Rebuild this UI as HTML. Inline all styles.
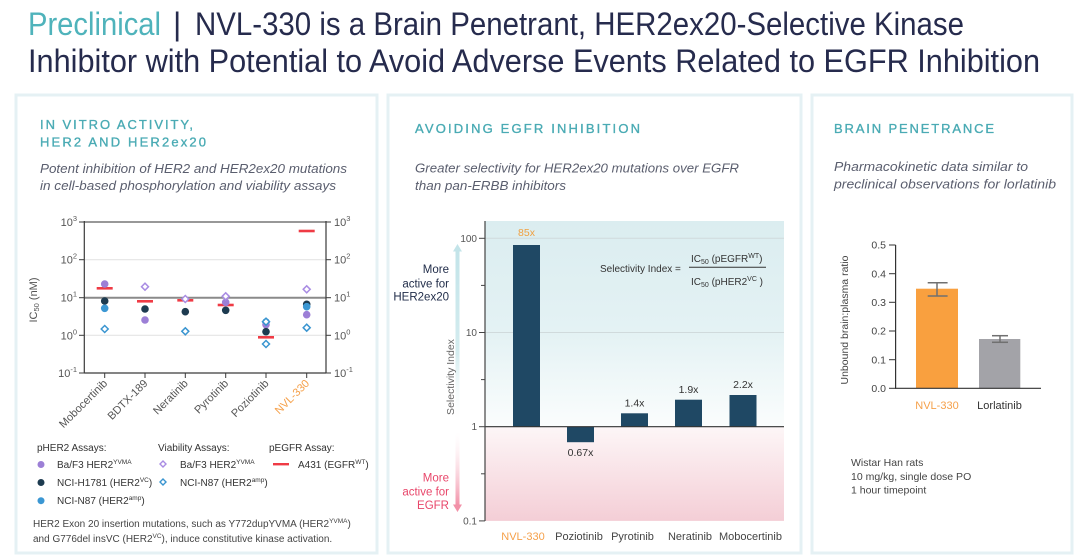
<!DOCTYPE html>
<html><head><meta charset="utf-8"><style>
html,body{margin:0;padding:0;background:#fff;}
svg{display:block;}
text{font-family:"Liberation Sans",sans-serif;}
</style></head><body>
<svg width="1080" height="560" viewBox="0 0 1080 560" xmlns="http://www.w3.org/2000/svg">
<defs>
<linearGradient id="gTeal" x1="0" y1="0" x2="0" y2="1">
<stop offset="0" stop-color="#dbedf0"/><stop offset="0.55" stop-color="#e4f2f4"/><stop offset="1" stop-color="#fbfdfd"/>
</linearGradient>
<linearGradient id="gPink" x1="0" y1="0" x2="0" y2="1">
<stop offset="0" stop-color="#fdf6f7"/><stop offset="1" stop-color="#f4ced6"/>
</linearGradient>
<linearGradient id="aTeal" x1="0" y1="0" x2="0" y2="1">
<stop offset="0" stop-color="#c3e4e9"/><stop offset="0.6" stop-color="#d4ecef"/><stop offset="1" stop-color="#ffffff" stop-opacity="0.2"/>
</linearGradient>
<linearGradient id="aPink" x1="0" y1="0" x2="0" y2="1">
<stop offset="0" stop-color="#ffffff" stop-opacity="0.2"/><stop offset="1" stop-color="#f291a8"/>
</linearGradient>
</defs>
<rect width="1080" height="560" fill="#fff"/>

<!-- Title -->
<text x="28" y="35" font-size="32" fill="#4fb3bb" textLength="133" lengthAdjust="spacingAndGlyphs">Preclinical</text>
<text x="173" y="35" font-size="32" fill="#262b4d">|</text>
<text x="195" y="35" font-size="32" fill="#262b4d" textLength="769" lengthAdjust="spacingAndGlyphs">NVL-330 is a Brain Penetrant, HER2ex20-Selective Kinase</text>
<text x="28" y="72" font-size="32" fill="#262b4d" textLength="1012" lengthAdjust="spacingAndGlyphs">Inhibitor with Potential to Avoid Adverse Events Related to EGFR Inhibition</text>

<!-- Panels -->
<rect x="16" y="95" width="361" height="458" fill="#fff" stroke="#e5f1f4" stroke-width="3"/>
<rect x="388" y="95" width="413" height="458" fill="#fff" stroke="#e5f1f4" stroke-width="3"/>
<rect x="812" y="95" width="260" height="458" fill="#fff" stroke="#e5f1f4" stroke-width="3"/>

<!-- Section headers -->
<g font-size="13" fill="#4aabb4" stroke="#4aabb4" stroke-width="0.35">
<text x="40" y="129" textLength="153" lengthAdjust="spacing">IN VITRO ACTIVITY,</text>
<text x="40" y="146.5" textLength="166" lengthAdjust="spacing">HER2 AND HER2ex20</text>
<text x="415" y="133" textLength="225" lengthAdjust="spacing">AVOIDING EGFR INHIBITION</text>
<text x="834" y="133" textLength="160" lengthAdjust="spacing">BRAIN PENETRANCE</text>
</g>
<g font-size="13" font-style="italic" fill="#5a5e6e">
<text x="40" y="173" textLength="307" lengthAdjust="spacingAndGlyphs">Potent inhibition of HER2 and HER2ex20 mutations</text>
<text x="40" y="190" textLength="296" lengthAdjust="spacingAndGlyphs">in cell-based phosphorylation and viability assays</text>
<text x="415" y="172.5" textLength="324" lengthAdjust="spacingAndGlyphs">Greater selectivity for HER2ex20 mutations over EGFR</text>
<text x="415" y="190" textLength="151" lengthAdjust="spacingAndGlyphs">than pan-ERBB inhibitors</text>
<text x="834" y="171" textLength="194" lengthAdjust="spacingAndGlyphs">Pharmacokinetic data similar to</text>
<text x="834" y="188.5" textLength="222" lengthAdjust="spacingAndGlyphs">preclinical observations for lorlatinib</text>
</g>

<!-- LEFT CHART -->
<g>
<line x1="84.3" y1="259.7" x2="326" y2="259.7" stroke="#e4e4e4" stroke-width="1.2"/>
<line x1="84.3" y1="335.3" x2="326" y2="335.3" stroke="#e4e4e4" stroke-width="1.2"/>
<line x1="84.3" y1="222" x2="326" y2="222" stroke="#8a8a8a" stroke-width="1.8"/>
<line x1="84.3" y1="297.7" x2="326" y2="297.7" stroke="#8a8a8a" stroke-width="2"/>
<line x1="84.3" y1="373" x2="326" y2="373" stroke="#3a3a3a" stroke-width="1.2"/>
<line x1="84.3" y1="221" x2="84.3" y2="373.5" stroke="#3a3a3a" stroke-width="1.2"/>
<line x1="326" y1="221" x2="326" y2="373.5" stroke="#3a3a3a" stroke-width="1.2"/>
<g stroke="#3a3a3a" stroke-width="1">
<line x1="79" y1="222" x2="84.3" y2="222"/><line x1="79" y1="259.7" x2="84.3" y2="259.7"/><line x1="79" y1="297.7" x2="84.3" y2="297.7"/><line x1="79" y1="335.3" x2="84.3" y2="335.3"/><line x1="79" y1="373" x2="84.3" y2="373"/>
<line x1="326" y1="222" x2="331" y2="222"/><line x1="326" y1="259.7" x2="331" y2="259.7"/><line x1="326" y1="297.7" x2="331" y2="297.7"/><line x1="326" y1="335.3" x2="331" y2="335.3"/><line x1="326" y1="373" x2="331" y2="373"/>
<line x1="104.7" y1="373" x2="104.7" y2="378"/><line x1="145" y1="373" x2="145" y2="378"/><line x1="185.3" y1="373" x2="185.3" y2="378"/><line x1="225.7" y1="373" x2="225.7" y2="378"/><line x1="266" y1="373" x2="266" y2="378"/><line x1="306.7" y1="373" x2="306.7" y2="378"/>
</g>
<g font-size="11" fill="#555" text-anchor="end">
<text x="77" y="226">10<tspan font-size="7.5" dy="-5">3</tspan></text>
<text x="77" y="263.7">10<tspan font-size="7.5" dy="-5">2</tspan></text>
<text x="77" y="301.7">10<tspan font-size="7.5" dy="-5">1</tspan></text>
<text x="77" y="339.3">10<tspan font-size="7.5" dy="-5">0</tspan></text>
<text x="77" y="377">10<tspan font-size="7.5" dy="-5">-1</tspan></text>
</g>
<g font-size="11" fill="#555">
<text x="334" y="226">10<tspan font-size="7.5" dy="-5">3</tspan></text>
<text x="334" y="263.7">10<tspan font-size="7.5" dy="-5">2</tspan></text>
<text x="334" y="301.7">10<tspan font-size="7.5" dy="-5">1</tspan></text>
<text x="334" y="339.3">10<tspan font-size="7.5" dy="-5">0</tspan></text>
<text x="334" y="377">10<tspan font-size="7.5" dy="-5">-1</tspan></text>
</g>
<text transform="translate(37,300) rotate(-90)" font-size="11" fill="#555" text-anchor="middle">IC<tspan font-size="7.5" dy="2">50</tspan><tspan dy="-2"> (nM)</tspan></text>

<g font-size="11" fill="#555" text-anchor="end">
<text transform="translate(108,384) rotate(-45)">Mobocertinib</text>
<text transform="translate(148.3,384) rotate(-45)">BDTX-189</text>
<text transform="translate(188.6,384) rotate(-45)">Neratinib</text>
<text transform="translate(229,384) rotate(-45)">Pyrotinib</text>
<text transform="translate(269.3,384) rotate(-45)">Poziotinib</text>
<text transform="translate(310,384) rotate(-45)" fill="#f5a04a">NVL-330</text>
</g>

<!-- red lines -->
<g fill="#ef3b45">
<rect x="96.7" y="287" width="16" height="2.6"/>
<rect x="137" y="300" width="16" height="2.6"/>
<rect x="177.3" y="299" width="16" height="2.6"/>
<rect x="217.7" y="303.7" width="16" height="2.6"/>
<rect x="258" y="336" width="16" height="2.6"/>
<rect x="298.7" y="229.7" width="16" height="2.6"/>
</g>
<!-- filled circles -->
<g>
<circle cx="104.7" cy="284" r="3.8" fill="#9c7fd6"/>
<circle cx="104.7" cy="301" r="3.8" fill="#1d3b50"/>
<circle cx="104.7" cy="308.3" r="3.8" fill="#3b97d3"/>
<circle cx="145" cy="309" r="3.8" fill="#1d3b50"/>
<circle cx="145" cy="320" r="3.8" fill="#9c7fd6"/>
<circle cx="185.3" cy="311.7" r="3.8" fill="#1d3b50"/>
<circle cx="225.7" cy="302.3" r="3.8" fill="#9c7fd6"/>
<circle cx="225.7" cy="310.3" r="3.8" fill="#1d3b50"/>
<circle cx="266" cy="322" r="3.8" fill="#3b97d3"/>
<circle cx="266" cy="324.7" r="3.8" fill="#9c7fd6"/>
<circle cx="266" cy="331.7" r="3.8" fill="#1d3b50"/>
<circle cx="306.7" cy="304.3" r="3.8" fill="#1d3b50"/>
<circle cx="306.7" cy="306.7" r="3.8" fill="#3b97d3"/>
<circle cx="306.7" cy="314.7" r="3.8" fill="#9c7fd6"/>
</g>
<!-- diamonds -->
<g fill="#fff" stroke-width="1.5">
<polygon points="104.7,325.5 108.2,329 104.7,332.5 101.2,329" stroke="#3a95d0"/>
<polygon points="145,283.2 148.5,286.7 145,290.2 141.5,286.7" stroke="#a98ce3"/>
<polygon points="185.3,295.5 188.8,299 185.3,302.5 181.8,299" stroke="#a98ce3"/>
<polygon points="185.3,327.8 188.8,331.3 185.3,334.8 181.8,331.3" stroke="#3a95d0"/>
<polygon points="225.7,292.8 229.2,296.3 225.7,299.8 222.2,296.3" stroke="#a98ce3"/>
<polygon points="266,318.2 269.5,321.7 266,325.2 262.5,321.7" stroke="#3a95d0"/>
<polygon points="266,340.5 269.5,344 266,347.5 262.5,344" stroke="#3a95d0"/>
<polygon points="306.7,285.8 310.2,289.3 306.7,292.8 303.2,289.3" stroke="#a98ce3"/>
<polygon points="306.7,324.2 310.2,327.7 306.7,331.2 303.2,327.7" stroke="#3a95d0"/>
</g>
</g>

<!-- LEFT LEGEND -->
<g font-size="10" fill="#333">
<text x="37" y="451">pHER2 Assays:</text>
<text x="158" y="451">Viability Assays:</text>
<text x="269" y="451">pEGFR Assay:</text>
<circle cx="41" cy="464.5" r="3.5" fill="#9c7fd6"/>
<circle cx="41" cy="482.5" r="3.5" fill="#1d3b50"/>
<circle cx="41" cy="500.7" r="3.5" fill="#3b97d3"/>
<text x="57" y="468">Ba/F3 HER2<tspan font-size="6.5" dy="-4">YVMA</tspan></text>
<text x="57" y="486">NCI-H1781 (HER2<tspan font-size="6.5" dy="-4">VC</tspan><tspan dy="4">)</tspan></text>
<text x="57" y="504">NCI-N87 (HER2<tspan font-size="6.5" dy="-4">amp</tspan><tspan dy="4">)</tspan></text>
<polygon points="163,461 166,464 163,467 160,464" fill="#fff" stroke="#a98ce3" stroke-width="1.4"/>
<polygon points="163,479 166,482 163,485 160,482" fill="#fff" stroke="#3a95d0" stroke-width="1.4"/>
<text x="180" y="468">Ba/F3 HER2<tspan font-size="6.5" dy="-4">YVMA</tspan></text>
<text x="180" y="486">NCI-N87 (HER2<tspan font-size="6.5" dy="-4">amp</tspan><tspan dy="4">)</tspan></text>
<rect x="273" y="463" width="16" height="2.4" fill="#ef3b45"/>
<text x="298" y="468">A431 (EGFR<tspan font-size="6.5" dy="-4">WT</tspan><tspan dy="4">)</tspan></text>
</g>
<g font-size="10" fill="#444">
<text x="33" y="527">HER2 Exon 20 insertion mutations, such as Y772dupYVMA (HER2<tspan font-size="6.5" dy="-4">YVMA</tspan><tspan dy="4">)</tspan></text>
<text x="33" y="542">and G776del insVC (HER2<tspan font-size="6.5" dy="-4">VC</tspan><tspan dy="4">), induce constitutive kinase activation.</tspan></text>
</g>

<!-- MIDDLE CHART -->
<rect x="485" y="221" width="299" height="205.7" fill="url(#gTeal)"/>
<rect x="485" y="426.7" width="299" height="94.2" fill="url(#gPink)"/>
<line x1="485" y1="238.3" x2="784" y2="238.3" stroke="#d0dadc" stroke-width="1"/>
<line x1="485" y1="332.5" x2="784" y2="332.5" stroke="#d0dadc" stroke-width="1"/>
<!-- bars -->
<g fill="#1f4864">
<rect x="513" y="245" width="27" height="181.7"/>
<rect x="567" y="426.7" width="27" height="15.5"/>
<rect x="621" y="413.3" width="27" height="13.4"/>
<rect x="675" y="399.7" width="27" height="27"/>
<rect x="729.5" y="395" width="27" height="31.7"/>
</g>
<line x1="485" y1="426.7" x2="784" y2="426.7" stroke="#333" stroke-width="1.2"/>
<line x1="485" y1="221" x2="485" y2="521" stroke="#444" stroke-width="1.2"/>
<g stroke="#444" stroke-width="1">
<line x1="479" y1="238.3" x2="485" y2="238.3"/><line x1="479" y1="332.5" x2="485" y2="332.5"/><line x1="479" y1="426.7" x2="485" y2="426.7"/><line x1="479" y1="520.9" x2="485" y2="520.9"/>
<line x1="481" y1="285.4" x2="485" y2="285.4"/><line x1="481" y1="379.6" x2="485" y2="379.6"/><line x1="481" y1="473.8" x2="485" y2="473.8"/>
</g>
<g font-size="10" fill="#555" text-anchor="end">
<text x="477" y="241.8">100</text>
<text x="477" y="336">10</text>
<text x="477" y="430.2">1</text>
<text x="477" y="524.4">0.1</text>
</g>
<!-- arrows -->
<rect x="455.5" y="251" width="4" height="172" fill="url(#aTeal)"/>
<polygon points="457.5,244 462,251.5 453,251.5" fill="#c3e4e9"/>
<rect x="455.5" y="432" width="4" height="73" fill="url(#aPink)"/>
<polygon points="453,504.5 462,504.5 457.5,512" fill="#f291a8"/>
<text transform="translate(454,377) rotate(-90)" font-size="10.5" fill="#666" text-anchor="middle">Selectivity Index</text>
<g font-size="11.5" fill="#1f2b48" text-anchor="end">
<text x="449" y="273">More</text>
<text x="449" y="287.3">active for</text>
<text x="449" y="300.7">HER2ex20</text>
</g>
<g font-size="11.5" fill="#e8466a" text-anchor="end">
<text x="449" y="481.5">More</text>
<text x="449" y="495.5">active for</text>
<text x="449" y="509">EGFR</text>
</g>
<!-- formula -->
<g font-size="10" fill="#333">
<text x="600" y="272">Selectivity Index =</text>
<line x1="689" y1="267.3" x2="766" y2="267.3" stroke="#333" stroke-width="1"/>
<text x="691" y="262">IC<tspan font-size="7" dy="2">50</tspan><tspan dy="-2"> (pEGFR</tspan><tspan font-size="7" dy="-4">WT</tspan><tspan dy="4">)</tspan></text>
<text x="691" y="285">IC<tspan font-size="7" dy="2">50</tspan><tspan dy="-2"> (pHER2</tspan><tspan font-size="7" dy="-4">VC</tspan><tspan dy="4"> )</tspan></text>
</g>
<!-- bar labels -->
<g font-size="10.5" fill="#333" text-anchor="middle">
<text x="526.5" y="236" fill="#f0a040">85x</text>
<text x="580.5" y="456">0.67x</text>
<text x="634.5" y="406.5">1.4x</text>
<text x="688.5" y="393">1.9x</text>
<text x="743" y="388">2.2x</text>
</g>
<g font-size="11" fill="#444" text-anchor="middle">
<text x="523" y="540" fill="#f5a04a">NVL-330</text>
<text x="579" y="540">Poziotinib</text>
<text x="632.5" y="540">Pyrotinib</text>
<text x="690" y="540">Neratinib</text>
<text x="750.5" y="540">Mobocertinib</text>
</g>

<!-- RIGHT CHART -->
<rect x="916" y="288.7" width="42" height="99.6" fill="#f9a03f"/>
<rect x="979" y="339" width="41.3" height="49.3" fill="#a3a3a8"/>
<g stroke="#707070" stroke-width="1.5" fill="none">
<line x1="937" y1="282.7" x2="937" y2="296"/><line x1="927.7" y1="282.7" x2="947.6" y2="282.7"/><line x1="927.7" y1="296" x2="947.6" y2="296"/>
<line x1="1000" y1="335.7" x2="1000" y2="342.3"/><line x1="992" y1="335.7" x2="1008" y2="335.7"/><line x1="992" y1="342.3" x2="1008" y2="342.3"/>
</g>
<line x1="895.6" y1="245" x2="895.6" y2="388.8" stroke="#333" stroke-width="1.2"/>
<line x1="895" y1="388.3" x2="1041" y2="388.3" stroke="#333" stroke-width="1.2"/>
<g stroke="#333" stroke-width="1">
<line x1="889" y1="245" x2="895.6" y2="245"/><line x1="889" y1="273.7" x2="895.6" y2="273.7"/><line x1="889" y1="302.3" x2="895.6" y2="302.3"/><line x1="889" y1="331" x2="895.6" y2="331"/><line x1="889" y1="359.7" x2="895.6" y2="359.7"/><line x1="889" y1="388.3" x2="895.6" y2="388.3"/>
</g>
<g font-size="10.5" fill="#444" text-anchor="end">
<text x="886" y="248.7">0.5</text>
<text x="886" y="277.4">0.4</text>
<text x="886" y="306">0.3</text>
<text x="886" y="334.7">0.2</text>
<text x="886" y="363.4">0.1</text>
<text x="886" y="392">0.0</text>
</g>
<text transform="translate(848,320) rotate(-90)" font-size="10.5" fill="#444" text-anchor="middle">Unbound brain:plasma ratio</text>
<text x="937" y="409" font-size="11" fill="#f5a04a" text-anchor="middle">NVL-330</text>
<text x="999.5" y="409" font-size="11" fill="#333" text-anchor="middle">Lorlatinib</text>
<g font-size="10.5" fill="#444">
<text x="851" y="466">Wistar Han rats</text>
<text x="851" y="480">10 mg/kg, single dose PO</text>
<text x="851" y="493.5">1 hour timepoint</text>
</g>
</svg>
</body></html>
